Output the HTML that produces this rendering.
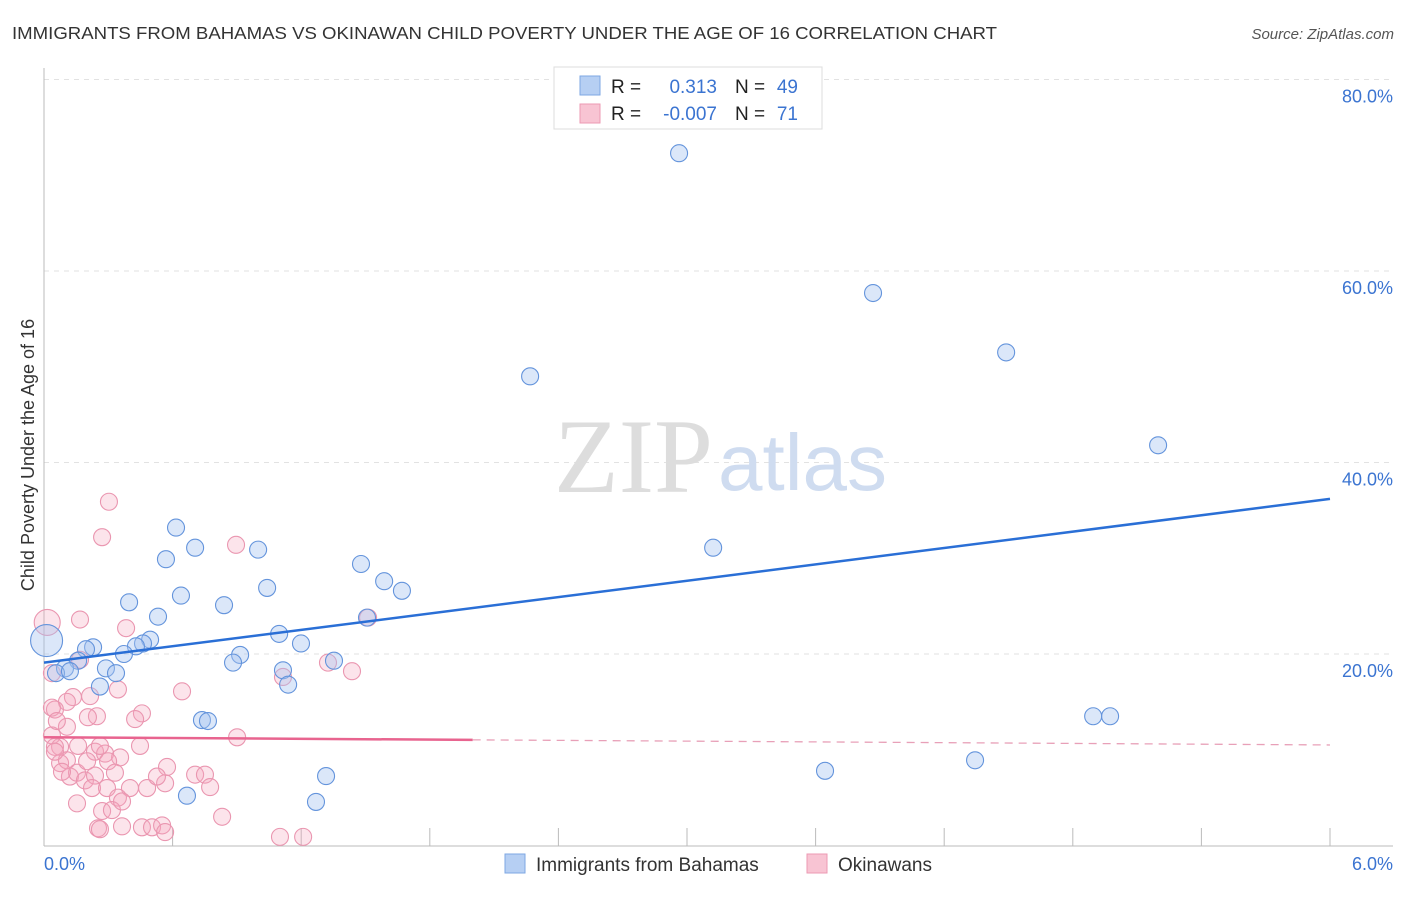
<!DOCTYPE html>
<html><head><meta charset="utf-8"><style>
body{margin:0;background:#fff;font-family:"Liberation Sans",sans-serif}
</style></head><body>
<svg width="1406" height="892" xmlns="http://www.w3.org/2000/svg">
<text x="12" y="39" font-size="17.5" fill="#333" textLength="985" lengthAdjust="spacingAndGlyphs">IMMIGRANTS FROM BAHAMAS VS OKINAWAN CHILD POVERTY UNDER THE AGE OF 16 CORRELATION CHART</text>
<text x="1394" y="39" font-size="15" fill="#555" font-style="italic" text-anchor="end">Source: ZipAtlas.com</text>
<g id="grid"></g>
<text x="713" y="492" font-size="106" fill="#ddd" text-anchor="end" font-family="Liberation Serif,serif">ZIP</text>
<text x="718" y="490" font-size="80" fill="#cfdcf0">atlas</text>
<text x="34" y="455" font-size="18" fill="#333" text-anchor="middle" transform="rotate(-90 34 455)">Child Poverty Under the Age of 16</text>
<g id="pts"></g>
<g id="lines"></g>
<text x="44" y="870" font-size="18" fill="#3b74d1">0.0%</text>
<text x="1393" y="870" font-size="18" fill="#3b74d1" text-anchor="end">6.0%</text>
<g>
<rect x="554" y="67" width="268" height="62" fill="#fff" stroke="#ddd"/>
<rect x="580" y="76" width="20" height="19" fill="#b6cff3" stroke="#7ea7e3"/>
<rect x="580" y="104" width="20" height="19" fill="#f8c4d3" stroke="#ec9ab3"/>
<text x="611" y="93" font-size="19" fill="#222">R =</text><text x="717" y="93" font-size="19" fill="#3b74d1" text-anchor="end">0.313</text>
<text x="735" y="93" font-size="19" fill="#222">N =</text><text x="798" y="93" font-size="19" fill="#3b74d1" text-anchor="end">49</text>
<text x="611" y="120" font-size="19" fill="#222">R =</text><text x="717" y="120" font-size="19" fill="#3b74d1" text-anchor="end">-0.007</text>
<text x="735" y="120" font-size="19" fill="#222">N =</text><text x="798" y="120" font-size="19" fill="#3b74d1" text-anchor="end">71</text>
</g>
<g>
<rect x="505" y="854" width="20" height="19" fill="#b6cff3" stroke="#7ea7e3"/>
<text x="536" y="871" font-size="19" fill="#333">Immigrants from Bahamas</text>
<rect x="807" y="854" width="20" height="19" fill="#f8c4d3" stroke="#ec9ab3"/>
<text x="838" y="871" font-size="19" fill="#333">Okinawans</text>
</g>
</svg>
<script>
const yTicks=[20,40,60,80];
const xTicks=[0,0.6,1.2,1.8,2.4,3.0,3.6,4.2,4.8,5.4,6.0];
const blueX=[2.963,3.868,4.489,2.268,5.198,3.122,.616,.569,.705,.999,1.479,1.587,1.670,1.041,.639,.397,.532,.840,.495,.462,.429,1.097,1.199,1.353,.915,1.507,.882,.373,.229,.196,.159,.289,.336,.098,.056,.121,.261,1.115,1.139,.737,.765,4.895,4.974,1.316,.667,1.269,3.644,4.344,.012];
const blueY=[72.3,57.7,51.5,49.0,41.8,31.1,33.2,29.9,31.1,30.9,29.4,27.6,26.6,26.9,26.1,25.4,23.9,25.1,21.5,21.1,20.8,22.1,21.1,19.3,19.9,23.8,19.1,20.0,20.7,20.5,19.3,18.5,18.0,18.5,18.0,18.2,16.6,18.3,16.8,13.1,13.0,13.5,13.5,7.25,5.2,4.55,7.8,8.9,21.4];
const pinkX=[.303,.271,.896,.015,.168,.383,1.512,.168,1.325,1.437,1.115,.037,.644,.345,.215,.135,.107,.051,.037,.247,.205,.457,.425,.107,.037,.901,.075,.051,.159,.238,.285,.355,.299,.075,.331,.574,.705,.751,.121,.154,.191,.238,.224,.294,.401,.481,.565,.775,.345,.154,.271,.317,.364,.252,.364,.457,.504,.551,.565,.831,1.101,1.209,.107,.201,.051,.084,.527,.261,.261,.448,.06];
const pinkY=[35.9,32.2,31.4,23.3,23.6,22.7,23.8,19.4,19.1,18.2,17.6,18.0,16.1,16.3,15.6,15.5,15.0,14.2,14.4,13.5,13.4,13.8,13.2,12.4,11.5,11.3,10.3,10.3,10.4,9.8,9.6,9.2,8.8,8.6,7.6,8.2,7.4,7.4,7.2,7.6,6.8,7.3,6.0,6.0,6.0,6.0,6.5,6.1,5.0,4.4,3.6,3.7,4.6,1.8,2.0,1.9,1.9,2.1,1.4,3.0,0.9,0.9,8.9,8.8,9.8,7.7,7.2,10.4,1.7,10.4,13.0];
const blueTrend=[19.1,36.2];
const pinkTrend=[11.3,10.5];
const NS='http://www.w3.org/2000/svg';
const X=v=>44+v/6*1286;
const Y=v=>845.5-v/20*191.5;
function mk(t,a,p){const e=document.createElementNS(NS,t);for(const k in a)e.setAttribute(k,a[k]);p.appendChild(e);return e;}
const grid=document.getElementById('grid');
for(const t of yTicks){
 const l=mk('line',{x1:44,x2:1393,y1:Y(t),y2:Y(t),stroke:'#e2e2e2','stroke-dasharray':'5,5'},grid);
 
 
 const tx=mk('text',{x:1393,y:Y(t)+23,'font-size':18,fill:'#3b74d1','text-anchor':'end'},grid);
 tx.textContent=t.toFixed(1)+'%';
 
 
}
mk('line',{x1:44,x2:44,y1:68,y2:846,stroke:'#bbb'},grid);
mk('line',{x1:44,x2:1393,y1:846,y2:846,stroke:'#bbb'},grid);
for(const t of xTicks){
 const l=mk('line',{x1:X(t),x2:X(t),y1:828,y2:846,stroke:'#bbb'},grid);
 
 
}
const pts=document.getElementById('pts');
pinkX.forEach((x,i)=>{
 const r=(i===3)?13:8.5;
 const c=mk('circle',{cx:X(x),cy:Y(pinkY[i]),r:r,fill:'rgba(245,165,190,0.3)',stroke:'#ea96b0','stroke-width':1.1},pts);
 
 
});
blueX.forEach((x,i)=>{
 const r=(i===48)?16:8.5;
 const c=mk('circle',{cx:X(x),cy:Y(blueY[i]),r:r,fill:'rgba(165,196,240,0.4)',stroke:'#6494dc','stroke-width':1.1},pts);
 
 
});
const lines=document.getElementById('lines');
const bl=mk('line',{x1:X(0),y1:Y(blueTrend[0]),x2:X(6),y2:Y(blueTrend[1]),stroke:'#2a6fd6','stroke-width':2.5},lines);


const pm=v=>pinkTrend[0]+(pinkTrend[1]-pinkTrend[0])*v/6;
const pl=mk('line',{x1:X(0),y1:Y(pm(0)),x2:X(2),y2:Y(pm(2)),stroke:'#e8648f','stroke-width':2.5},lines);


const pd=mk('line',{x1:X(2),y1:Y(pm(2)),x2:X(6),y2:Y(pm(6)),stroke:'#e8a0b8','stroke-width':1.3,'stroke-dasharray':'8,6'},lines);


</script>
</body></html>
